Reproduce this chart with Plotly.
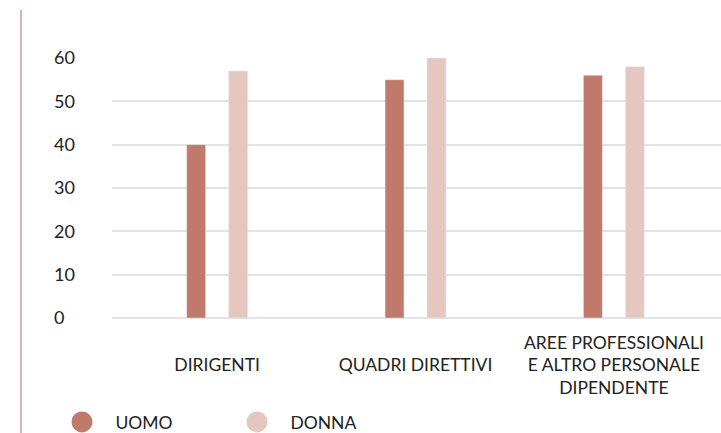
import plotly.graph_objects as go

categories = ["DIRIGENTI", "QUADRI DIRETTIVI", "AREE PROFESSIONALI E ALTRO PERSONALE DIPENDENTE"]
category_labels = ["\u00a0<br>DIRIGENTI", "\u00a0<br>QUADRI DIRETTIVI",
                   "AREE PROFESSIONALI<br>E ALTRO PERSONALE<br>DIPENDENTE"]
uomo = [40, 55, 56]
donna = [57, 60, 58]
y_ticks = [0, 10, 20, 30, 40, 50, 60]

C_UOMO = "#c0796a"
C_DONNA = "#e5c7bf"
FONT = "Lato"

fig = go.Figure()
fig.add_bar(x=categories, y=uomo, marker_color=C_UOMO, name="UOMO", showlegend=False)
fig.add_bar(x=categories, y=donna, marker_color=C_DONNA, name="DONNA", showlegend=False)

# circular legend markers
for name, col in [("UOMO", C_UOMO), ("DONNA", C_DONNA)]:
    fig.add_scatter(x=[None], y=[None], mode="markers", name="\u00a0\u00a0\u00a0" + name,
                    marker=dict(symbol="circle", size=16, color=col,
                                line=dict(color=col, width=5)))

# decorative vertical rule on the left
fig.add_shape(type="line", xref="paper", yref="paper",
              x0=(21 - 112) / 609, x1=(21 - 112) / 609,
              y0=(318 - 10) / 260, y1=(318 - 440) / 260,
              line=dict(color="#d09a90", width=1.5))

fig.update_layout(
    width=721, height=433,
    margin=dict(l=112, r=0, t=58, b=115, autoexpand=False),
    paper_bgcolor="white", plot_bgcolor="white",
    barmode="group", bargap=0.577, bargroupgap=0.548,
    font=dict(family=FONT, size=17, color="#222222"),
    showlegend=True,
    legend=dict(orientation="h", x=(62 - 112) / 609, xanchor="left",
                yref="container", y=1 - 404 / 433, yanchor="top",
                font=dict(size=17.5, color="#222222"),
                entrywidth=130, entrywidthmode="pixels",
                bgcolor="rgba(0,0,0,0)"),
    xaxis=dict(type="category", range=[-0.53, 2.54], showgrid=False,
               tickvals=categories, ticktext=category_labels,
               showline=False, ticks="", ticklabelstandoff=12, automargin=False,
               tickfont=dict(size=17.5, family=FONT, color="#222222")),
    yaxis=dict(range=[0, 60], tickvals=y_ticks,
               ticktext=[str(v) if v >= 10 else str(v) + "\u2007" for v in y_ticks],
               showgrid=True, gridcolor="#e3e3e3", gridwidth=1.5,
               zeroline=True, zerolinecolor="#e3e3e3", zerolinewidth=1.5,
               showline=False, ticks="", ticklabelstandoff=36, automargin=False,
               tickfont=dict(size=18, family=FONT, color="#222222")),
)

fig.write_html("out.html")
